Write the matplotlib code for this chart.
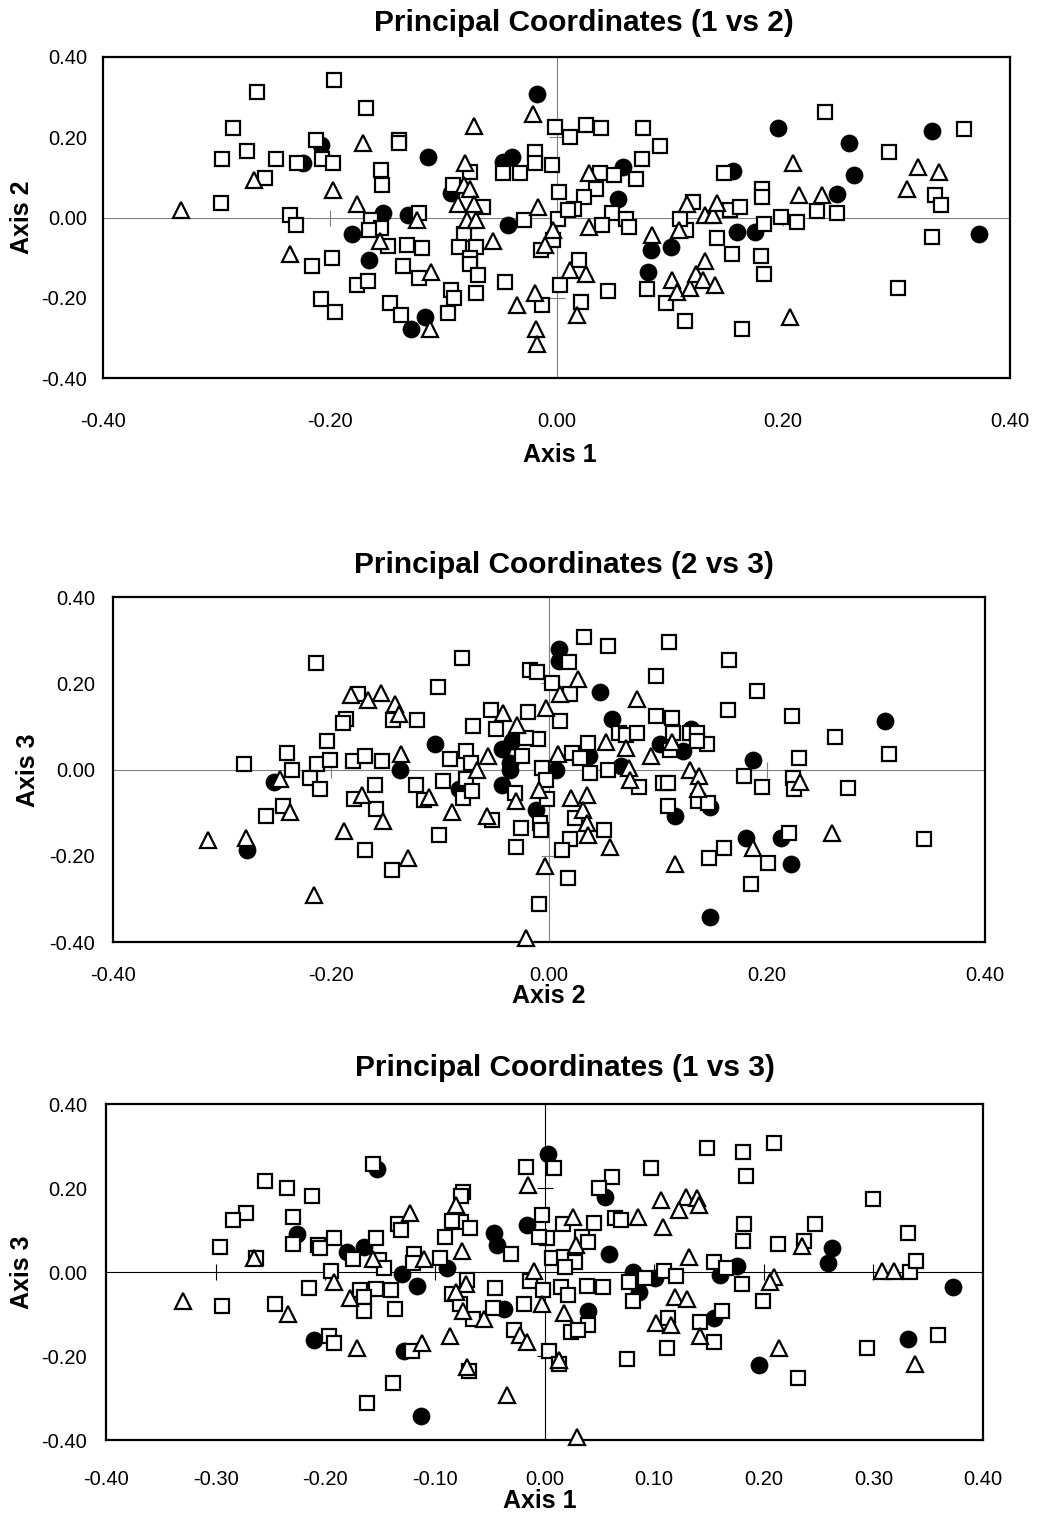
import matplotlib
matplotlib.use('Agg')
import matplotlib.pyplot as plt

plt.rcParams['font.family'] = ['Liberation Sans', 'DejaVu Sans']

# ---------------- data ----------------
# Panel 1: Axis 1 (x) vs Axis 2 (y)
p1_circle_x = [-0.208, -0.224, -0.113, -0.153, -0.180, -0.165, -0.131, -0.116, -0.128, -0.093, -0.047, -0.039, -0.017, -0.043, 0.059, 0.054, 0.083, 0.101, 0.081, 0.156, 0.159, 0.175, 0.195, 0.247, 0.258, 0.262, 0.331, 0.373]
p1_circle_y = [0.180, 0.135, 0.150, 0.012, -0.042, -0.105, 0.006, -0.248, -0.277, 0.060, 0.139, 0.151, 0.309, -0.019, 0.126, 0.047, -0.082, -0.073, -0.136, 0.116, -0.036, -0.036, 0.222, 0.058, 0.186, 0.105, 0.216, -0.042]
p1_square_x = [-0.264, -0.196, -0.285, -0.212, -0.295, -0.273, -0.247, -0.229, -0.207, -0.197, -0.257, -0.296, -0.235, -0.230, -0.216, -0.198, -0.208, -0.195,
               -0.168, -0.139, -0.139, -0.155, -0.154, -0.164, -0.155, -0.165, -0.149, -0.121, -0.132, -0.119, -0.135, -0.121, -0.176, -0.166, -0.147, -0.137, -0.093, -0.090, -0.096, -0.076, -0.091, -0.065, -0.082, -0.086, -0.071, -0.076, -0.076, -0.069, -0.071, -0.045, -0.047, -0.032, -0.019, -0.019, -0.004, -0.001, -0.029, 0.002, 0.001, -0.003, -0.014, 0.003, -0.013,
               0.012, 0.026, 0.039, 0.076, 0.091, 0.075, 0.038, 0.051, 0.070, 0.035, 0.024, 0.015, 0.010, 0.049, 0.061, 0.040, 0.064, 0.020, 0.045, 0.022, 0.080, 0.097, 0.113, 0.114, 0.109, 0.120, 0.153, 0.162, 0.148, 0.142, 0.155, 0.183, 0.180, 0.183, 0.164, 0.181, 0.181, 0.198,
               0.212, 0.230, 0.247, 0.237, 0.293, 0.359, 0.334, 0.339, 0.331, 0.301]
p1_square_y = [0.313, 0.342, 0.222, 0.193, 0.147, 0.165, 0.145, 0.135, 0.145, 0.135, 0.099, 0.037, 0.006, -0.019, -0.121, -0.100, -0.202, -0.235,
               0.274, 0.194, 0.186, 0.118, 0.081, -0.007, -0.027, -0.032, -0.072, 0.011, -0.069, -0.075, -0.121, -0.152, -0.169, -0.159, -0.213, -0.244, -0.181, -0.200, -0.239, 0.114, 0.081, 0.027, -0.042, -0.073, -0.073, -0.102, -0.115, -0.144, -0.188, -0.161, 0.110, 0.110, 0.164, 0.135, 0.130, 0.226, -0.007, 0.064, -0.003, -0.057, -0.080, -0.169, -0.219,
               0.201, 0.230, 0.222, 0.224, 0.178, 0.147, 0.110, 0.105, 0.097, 0.072, 0.051, 0.022, 0.018, 0.011, -0.003, -0.019, -0.023, -0.106, -0.183, -0.210, -0.177, -0.214, -0.258, -0.032, -0.003, 0.039, 0.018, 0.027, 0.110, -0.052, -0.092, -0.015, -0.097, -0.141, -0.279, 0.072, 0.051, 0.001,
               -0.011, 0.016, 0.010, 0.263, 0.164, 0.220, 0.056, 0.031, -0.048, -0.175]
p1_triangle_x = [-0.267, -0.331, -0.197, -0.235, -0.171, -0.176, -0.156, -0.123, -0.111, -0.112, -0.073, -0.081, -0.082, -0.076, -0.087, -0.073, -0.079, -0.071, -0.056, -0.021, -0.016, -0.003, -0.010, -0.019, -0.035, -0.018, -0.017,
                 0.029, 0.029, 0.012, 0.026, 0.018, 0.084, 0.102, 0.106, 0.118, 0.123, 0.131, 0.129, 0.140, 0.108, 0.115, 0.131, 0.138, 0.142, 0.209, 0.206, 0.214, 0.234, 0.319, 0.337, 0.309]
p1_triangle_y = [0.093, 0.018, 0.068, -0.092, 0.185, 0.033, -0.058, -0.005, -0.136, -0.279, 0.228, 0.135, 0.081, 0.072, 0.033, 0.033, -0.007, -0.005, -0.058, 0.257, 0.026, -0.032, -0.069, -0.188, -0.219, -0.279, -0.316,
                 0.111, -0.023, -0.131, -0.141, -0.244, -0.044, -0.155, -0.186, -0.175, -0.141, -0.108, -0.156, -0.169, -0.032, 0.033, 0.006, 0.006, 0.035, 0.135, -0.248, 0.056, 0.056, 0.126, 0.114, 0.070]

# Panel 2: Axis 2 (x) vs Axis 3 (y)
p2_circle_x = [-0.252, -0.277, 0.009, -0.137, -0.105, -0.083, -0.034, -0.043, -0.036, -0.036, -0.043, -0.012, 0.009, 0.047, 0.058, 0.037, 0.006, 0.066, 0.102, 0.130, 0.123, 0.116, 0.148, 0.148, 0.181, 0.187, 0.308, 0.213, 0.222]
p2_circle_y = [-0.029, -0.187, 0.280, 0.000, 0.060, -0.046, 0.066, 0.048, 0.016, 0.000, -0.035, -0.093, 0.251, 0.179, 0.118, 0.032, 0.000, 0.009, 0.060, 0.093, 0.042, -0.107, -0.087, -0.342, -0.159, 0.023, 0.112, -0.159, -0.220]
p2_square_x = [-0.214, -0.204, -0.280, -0.240, -0.236, -0.213, -0.201, -0.219, -0.210, -0.244, -0.260,
               -0.080, -0.102, -0.017, -0.011, 0.003, -0.175, -0.143, -0.121, -0.186, -0.189, -0.180, -0.169, -0.153, -0.160, -0.179, -0.159, -0.169, -0.144, -0.122, -0.115, -0.097, -0.101, -0.091, -0.076, -0.070, -0.072, -0.076, -0.079, -0.071, -0.052, -0.053, -0.049, -0.019, -0.010, -0.021, -0.025, -0.031, -0.006, -0.003, -0.002, -0.008, -0.007, -0.026, -0.030, -0.009,
               0.032, 0.054, 0.110, 0.018, 0.098, 0.165, 0.191, 0.164, 0.019, 0.010, 0.064, 0.071, 0.081, 0.036, 0.021, 0.028, 0.038, 0.054, 0.083, 0.098, 0.113, 0.111, 0.114, 0.129, 0.136, 0.145, 0.136, 0.105, 0.109, 0.109, 0.137, 0.146, 0.147, 0.161, 0.201, 0.185, 0.179, 0.195, 0.024, 0.050, 0.019, 0.012, 0.017,
               0.223, 0.262, 0.229, 0.312, 0.224, 0.225, 0.274, 0.220, 0.344]
p2_square_y = [0.248, 0.066, 0.012, 0.039, 0.000, 0.012, 0.023, -0.019, -0.046, -0.084, -0.108,
               0.258, 0.192, 0.230, 0.226, 0.201, 0.176, 0.114, 0.114, 0.116, 0.107, 0.019, 0.031, 0.019, -0.035, -0.068, -0.091, -0.187, -0.234, -0.037, -0.071, -0.027, -0.151, 0.025, 0.042, 0.100, 0.016, -0.023, -0.066, -0.050, -0.118, 0.138, 0.094, 0.133, 0.070, 0.074, 0.031, -0.054, 0.004, -0.025, -0.068, -0.124, -0.141, -0.135, -0.179, -0.313,
               0.308, 0.286, 0.295, 0.249, 0.217, 0.254, 0.183, 0.139, 0.176, 0.112, 0.085, 0.079, 0.085, 0.062, 0.039, 0.027, -0.008, 0.000, -0.040, 0.125, 0.120, 0.046, 0.085, 0.084, 0.085, 0.060, 0.066, -0.031, -0.031, -0.084, -0.073, -0.078, -0.205, -0.182, -0.217, -0.265, -0.014, -0.040, -0.112, -0.141, -0.162, -0.186, -0.251,
               0.125, 0.076, 0.027, 0.035, -0.019, -0.046, -0.042, -0.147, -0.161]
p2_triangle_x = [-0.247, -0.238, -0.313, -0.278, -0.216, -0.182, -0.166, -0.154, -0.141, -0.138, -0.136, -0.172, -0.152, -0.188, -0.129, -0.110, -0.089, -0.066, -0.056, -0.057, -0.042, -0.029, -0.003, -0.030, -0.009, -0.004, -0.021,
                 0.027, 0.010, 0.081, 0.052, 0.071, 0.008, 0.073, 0.074, 0.094, 0.113, 0.129, 0.138, 0.137, 0.116, 0.187, 0.020, 0.035, 0.031, 0.035, 0.036, 0.056, 0.230, 0.260]
p2_triangle_y = [-0.023, -0.099, -0.164, -0.159, -0.290, 0.172, 0.161, 0.178, 0.151, 0.128, 0.035, -0.058, -0.120, -0.143, -0.205, -0.063, -0.099, 0.000, 0.031, -0.108, 0.132, 0.104, 0.143, -0.073, -0.048, -0.224, -0.390,
                 0.209, 0.174, 0.164, 0.063, 0.050, 0.037, 0.004, -0.025, 0.032, 0.063, 0.000, -0.016, -0.046, -0.220, -0.182, -0.066, -0.058, -0.093, -0.124, -0.151, -0.179, -0.029, -0.147]

# Panel 3: Axis 1 (x) vs Axis 3 (y)
p3_circle_x = [-0.226, -0.210, -0.153, -0.180, -0.165, -0.130, -0.116, -0.128, -0.113, -0.089, -0.046, -0.043, -0.037, 0.003, -0.016, 0.055, 0.059, 0.081, 0.101, 0.086, 0.160, 0.176, 0.155, 0.196, 0.040, 0.262, 0.259, 0.373, 0.332]
p3_circle_y = [0.090, -0.162, 0.245, 0.048, 0.060, -0.005, -0.033, -0.188, -0.344, 0.009, 0.092, 0.064, -0.088, 0.280, 0.112, 0.179, 0.042, 0.001, -0.015, -0.048, -0.006, 0.015, -0.109, -0.221, -0.094, 0.056, 0.021, -0.035, -0.160]
p3_square_x = [-0.255, -0.235, -0.212, -0.272, -0.284, -0.229, -0.229, -0.207, -0.205, -0.192, -0.296, -0.263, -0.195, -0.294, -0.215, -0.246, -0.197, -0.192,
               -0.156, -0.175, -0.154, -0.151, -0.146, -0.168, -0.154, -0.140, -0.165, -0.165, -0.136, -0.119, -0.120, -0.134, -0.131, -0.121, -0.138, -0.162, -0.095, -0.091, -0.076, -0.068, -0.084, -0.074, -0.076, -0.071, -0.084, -0.077, -0.065, -0.069, -0.031, -0.045, -0.047, -0.028, -0.017, 0.009, -0.002, 0.002, -0.005, 0.007, -0.013, -0.001, -0.019, 0.004, 0.013,
               0.062, 0.050, 0.097, 0.148, 0.181, 0.209, 0.184, 0.045, 0.064, 0.070, 0.017, 0.034, 0.040, 0.018, 0.028, 0.019, 0.077, 0.092, 0.081, 0.109, 0.120, 0.155, 0.166, 0.180, 0.182, 0.181, 0.213, 0.199, 0.113, 0.142, 0.162, 0.155, 0.112, 0.075, 0.231, 0.040, 0.024, 0.031, 0.015, 0.021, 0.039, 0.053,
               0.247, 0.237, 0.300, 0.332, 0.333, 0.339, 0.359, 0.294]
p3_square_y = [0.217, 0.201, 0.182, 0.140, 0.124, 0.132, 0.066, 0.064, 0.058, 0.082, 0.060, 0.034, 0.002, -0.080, -0.039, -0.075, -0.152, -0.170,
               0.256, 0.031, 0.080, 0.029, 0.010, -0.043, -0.040, -0.043, -0.059, -0.093, -0.088, 0.042, 0.021, 0.114, 0.100, -0.188, -0.265, -0.313, 0.034, 0.084, 0.118, 0.104, 0.121, 0.190, 0.182, -0.019, -0.053, -0.075, -0.112, -0.236, 0.042, -0.037, -0.086, -0.138, 0.251, 0.247, 0.136, 0.082, 0.084, 0.033, -0.021, -0.043, -0.075, -0.188, -0.220,
               0.227, 0.201, 0.247, 0.295, 0.285, 0.308, 0.229, 0.116, 0.128, 0.124, 0.114, 0.084, 0.072, 0.036, 0.025, 0.013, -0.023, -0.015, -0.069, 0.002, -0.009, 0.025, 0.009, -0.029, 0.114, 0.074, 0.066, -0.069, -0.109, -0.118, -0.094, -0.166, -0.182, -0.207, -0.253, -0.126, -0.142, -0.138, -0.035, -0.055, -0.033, -0.035,
               0.114, 0.074, 0.174, 0.094, 0.001, 0.026, -0.150, -0.182]
p3_triangle_x = [-0.265, -0.192, -0.330, -0.234, -0.156, -0.177, -0.110, -0.123, -0.171, -0.112, -0.081, -0.075, -0.072, -0.081, -0.074, -0.055, -0.086, -0.071, -0.022, -0.016, -0.034, -0.015, -0.010, -0.002, 0.013,
                 0.106, 0.129, 0.139, 0.123, 0.141, 0.108, 0.026, 0.085, 0.029, 0.132, 0.209, 0.206, 0.119, 0.130, 0.102, 0.115, 0.142, 0.214, 0.030, 0.018, 0.235, 0.308, 0.319, 0.338]
p3_triangle_y = [0.033, -0.023, -0.069, -0.101, 0.031, -0.061, 0.031, 0.140, -0.180, -0.170, 0.160, 0.050, -0.029, -0.047, -0.094, -0.112, -0.152, -0.225, -0.150, -0.166, -0.293, 0.207, 0.002, -0.075, -0.210,
                 0.171, 0.179, 0.177, 0.148, 0.160, 0.106, 0.132, 0.132, 0.064, 0.036, -0.011, -0.023, -0.059, -0.064, -0.122, -0.126, -0.152, -0.180, -0.392, -0.098, 0.063, 0.002, 0.002, -0.220]

ticks_02 = [-0.40, -0.20, 0.00, 0.20, 0.40]
tick_labels_02 = ["-0.40", "-0.20", "0.00", "0.20", "0.40"]
ticks_01 = [-0.40, -0.30, -0.20, -0.10, 0.00, 0.10, 0.20, 0.30, 0.40]
tick_labels_01 = ["-0.40", "-0.30", "-0.20", "-0.10", "0.00", "0.10", "0.20", "0.30", "0.40"]

titles = ["Principal Coordinates (1 vs 2)", "Principal Coordinates (2 vs 3)", "Principal Coordinates (1 vs 3)"]
xlabels = ["Axis 1", "Axis 2", "Axis 1"]
ylabels = ["Axis 2", "Axis 3", "Axis 3"]

# ---------------- layout ----------------
W, H = 1038, 1517
fig = plt.figure(figsize=(W / 100, H / 100), dpi=100)

panels = [
    dict(box=(103, 57, 1010, 378), data=(p1_circle_x, p1_circle_y, p1_square_x, p1_square_y, p1_triangle_x, p1_triangle_y),
         xt=(ticks_02, tick_labels_02), yt=(ticks_02, tick_labels_02), xpad=24.5, ypad=11.5, zc='#808080',
         title_xy=(584, 23), xl_xy=(560, 455), yl_xy=(22, 217)),
    dict(box=(113, 597, 985, 942), data=(p2_circle_x, p2_circle_y, p2_square_x, p2_square_y, p2_triangle_x, p2_triangle_y),
         xt=(ticks_02, tick_labels_02), yt=(ticks_02, tick_labels_02), xpad=17.5, ypad=13, zc='#808080',
         title_xy=(564, 565), xl_xy=(549, 996), yl_xy=(28, 770)),
    dict(box=(106, 1104, 983, 1440), data=(p3_circle_x, p3_circle_y, p3_square_x, p3_square_y, p3_triangle_x, p3_triangle_y),
         xt=(ticks_01, tick_labels_01), yt=(ticks_02, tick_labels_02), xpad=21.5, ypad=13.5, zc='#000000',
         title_xy=(565, 1068), xl_xy=(540, 1501), yl_xy=(22, 1272)),
]

MS = 11.5
MEW = 1.6

for i, p in enumerate(panels):
    l, t, r, b = p['box']
    ax = fig.add_axes([l / W, 1 - b / H, (r - l) / W, (b - t) / H])
    ax.set_xlim(-0.4, 0.4)
    ax.set_ylim(-0.4, 0.4)
    for s in ax.spines.values():
        s.set_linewidth(1.6)
        s.set_color('black')
    # crossing axes at zero
    ax.axhline(0, color=p['zc'], lw=0.8, zorder=1)
    ax.axvline(0, color=p['zc'], lw=0.8, zorder=1)
    xt_inner = [v for v in p['xt'][0] if abs(v) > 1e-9 and abs(v) < 0.399]
    yt_inner = [v for v in p['yt'][0] if abs(v) > 1e-9 and abs(v) < 0.399]
    ax.plot(xt_inner, [0] * len(xt_inner), linestyle='none', marker='|', ms=11, mew=0.8, color=p['zc'], zorder=1)
    ax.plot([0] * len(yt_inner), yt_inner, linestyle='none', marker='_', ms=11, mew=0.8, color=p['zc'], zorder=1)

    cx, cy, sx, sy, tx, ty = p['data']
    ax.plot(cx, cy, linestyle='none', marker='o', ms=MS + 0.8, mfc='black', mec='black', mew=0.5, zorder=3, clip_on=False)
    ax.plot(sx, sy, linestyle='none', marker='s', ms=MS - 1, mfc='white', mec='black', mew=MEW, zorder=4, clip_on=False)
    ax.plot(tx, ty, linestyle='none', marker='^', ms=MS, mfc='white', mec='black', mew=MEW, zorder=5, clip_on=False)

    ax.set_xticks(p['xt'][0])
    ax.set_xticklabels(p['xt'][1])
    ax.set_yticks(p['yt'][0])
    ax.set_yticklabels(p['yt'][1])
    ax.tick_params(axis='both', length=0, labelsize=14.5)
    ax.tick_params(axis='x', pad=p['xpad'])
    ax.tick_params(axis='y', pad=p['ypad'])

    fig.text(p['title_xy'][0] / W, 1 - p['title_xy'][1] / H, titles[i], ha='center', va='center',
             fontsize=21.5, fontweight='bold')
    fig.text(p['xl_xy'][0] / W, 1 - p['xl_xy'][1] / H, xlabels[i], ha='center', va='center',
             fontsize=18, fontweight='bold')
    fig.text(p['yl_xy'][0] / W, 1 - p['yl_xy'][1] / H, ylabels[i], ha='center', va='center',
             fontsize=18, fontweight='bold', rotation=90)

fig.savefig('out.png', dpi=100, facecolor='white')
